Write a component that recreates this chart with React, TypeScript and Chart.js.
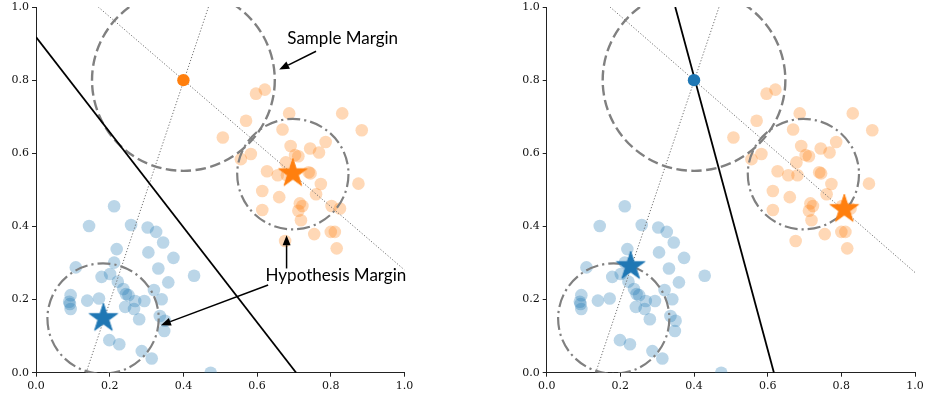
import React, { useEffect, useRef } from "react";
import { Chart, registerables } from "chart.js";
Chart.register(...registerables);

const BLUE = "#1f77b4";
const ORANGE = "#ff7f0e";
const BLUE_LIGHT = "rgba(31,119,180,0.3)";
const ORANGE_LIGHT = "rgba(255,127,14,0.3)";

// Class 0 (blue) samples
const bluePoints: [number, number][] = [
  [0.212, 0.455], [0.144, 0.401], [0.258, 0.404], [0.303, 0.397], [0.326, 0.385],
  [0.345, 0.356], [0.305, 0.329], [0.373, 0.314], [0.219, 0.338], [0.332, 0.285],
  [0.429, 0.265], [0.108, 0.288], [0.212, 0.301], [0.178, 0.262], [0.201, 0.270],
  [0.222, 0.249], [0.359, 0.247], [0.237, 0.229], [0.320, 0.226], [0.244, 0.215],
  [0.251, 0.212], [0.094, 0.212], [0.090, 0.194], [0.092, 0.188], [0.094, 0.174],
  [0.139, 0.197], [0.171, 0.203], [0.294, 0.196], [0.341, 0.201], [0.269, 0.196],
  [0.242, 0.180], [0.266, 0.174], [0.280, 0.146], [0.336, 0.155], [0.350, 0.142],
  [0.348, 0.114], [0.199, 0.089], [0.226, 0.078], [0.287, 0.059], [0.314, 0.039],
  [0.474, 0.0],
];

// Class 1 (orange) samples
const orangePoints: [number, number][] = [
  [0.597, 0.763], [0.621, 0.774], [0.687, 0.709], [0.831, 0.709], [0.570, 0.689],
  [0.884, 0.663], [0.669, 0.665], [0.507, 0.643], [0.691, 0.620], [0.744, 0.613],
  [0.786, 0.631], [0.768, 0.602], [0.583, 0.598], [0.556, 0.584], [0.703, 0.595],
  [0.712, 0.592], [0.678, 0.575], [0.627, 0.551], [0.656, 0.540], [0.681, 0.540],
  [0.740, 0.548], [0.745, 0.545], [0.773, 0.516], [0.875, 0.517], [0.614, 0.497],
  [0.660, 0.480], [0.760, 0.488], [0.716, 0.463], [0.723, 0.456], [0.712, 0.443],
  [0.614, 0.445], [0.802, 0.456], [0.825, 0.449], [0.719, 0.417], [0.755, 0.379],
  [0.800, 0.385], [0.811, 0.385], [0.816, 0.340], [0.676, 0.360],
];

const axisTicks = [0, 0.2, 0.4, 0.6, 0.8, 1.0];

const samplePoint: [number, number] = [0.4, 0.8];
const sampleMarginRadius = 0.248;
const hypothesisCenters: [number, number][] = [[0.182, 0.148], [0.697, 0.543]];
const hypothesisRadius = 0.151;

const leftStarBlue: [number, number] = [0.183, 0.149];
const leftStarOrange: [number, number] = [0.697, 0.545];
const rightStarBlue: [number, number] = [0.228, 0.291];
const rightStarOrange: [number, number] = [0.808, 0.447];

const leftBoundary: [number, number][] = [[0, 0.918], [0.706, 0]];
const rightBoundary: [number, number][] = [[0.349, 1.0], [0.617, 0]];
const leftGuides: [number, number][][] = [[[0.169, 1.0], [1.0, 0.281]], [[0.136, 0], [0.468, 1.0]]];
const rightGuides: [number, number][][] = [[[0.172, 1.0], [1.0, 0.274]], [[0.133, 0], [0.468, 1.0]]];

const annotationTexts = ["Sample Margin", "Hypothesis Margin"];
const annotationTextPos: [number, number][] = [[0.682, 0.898], [0.623, 0.251]];
const arrowTails: [number, number][] = [[0.760, 0.879], [0.680, 0.285], [0.630, 0.240]];
const arrowHeads: [number, number][] = [[0.660, 0.829], [0.680, 0.376], [0.339, 0.130]];

function makeStar(color: string, R: number) {
  const c = document.createElement("canvas");
  const s = Math.ceil(2 * R + 4);
  c.width = s;
  c.height = s;
  const g = c.getContext("2d")!;
  g.translate(s / 2, s / 2);
  g.beginPath();
  for (let i = 0; i < 10; i++) {
    const r = i % 2 ? R * 0.382 : R;
    const a = -Math.PI / 2 + (i * Math.PI) / 5;
    g.lineTo(r * Math.cos(a), r * Math.sin(a));
  }
  g.closePath();
  g.fillStyle = color;
  g.fill();
  g.strokeStyle = color;
  g.lineWidth = 1;
  g.stroke();
  return c;
}

const toXY = (arr: [number, number][]) => arr.map(([x, y]) => ({ x, y }));

type Panel = {
  sampleColor: string;
  starBlue: [number, number];
  starOrange: [number, number];
  boundary: [number, number][];
  guides: [number, number][][];
  annotate: boolean;
  padLeft: number;
  padRight: number;
};

function buildChart(canvas: HTMLCanvasElement, p: Panel) {
  const geom = {
    id: "geom",
    afterDatasetDraw(chart: any, args: any) {
      if (args.index !== 3) return;
      const { ctx, chartArea: a } = chart;
      const xs = chart.scales.x, ys = chart.scales.y;
      const px = (v: number) => xs.getPixelForValue(v);
      const py = (v: number) => ys.getPixelForValue(v);
      ctx.save();
      ctx.beginPath();
      ctx.rect(a.left, a.top, a.right - a.left, a.bottom - a.top);
      ctx.clip();
      // dotted guide lines
      ctx.strokeStyle = "#707070";
      ctx.lineWidth = 1;
      ctx.setLineDash([1.2, 1.9]);
      for (const g of p.guides) {
        ctx.beginPath();
        ctx.moveTo(px(g[0][0]), py(g[0][1]));
        ctx.lineTo(px(g[1][0]), py(g[1][1]));
        ctx.stroke();
      }
      // sample margin (dashed)
      ctx.strokeStyle = "#808080";
      ctx.lineWidth = 2.4;
      ctx.setLineDash([10.5, 4.5]);
      ctx.beginPath();
      ctx.ellipse(px(samplePoint[0]), py(samplePoint[1]),
        Math.abs(px(samplePoint[0] + sampleMarginRadius) - px(samplePoint[0])),
        Math.abs(py(samplePoint[1] + sampleMarginRadius) - py(samplePoint[1])), 0, 0, Math.PI * 2);
      ctx.stroke();
      // hypothesis margins (dash-dot)
      ctx.lineWidth = 2.2;
      ctx.setLineDash([13, 4, 2.2, 4]);
      for (const c of hypothesisCenters) {
        ctx.beginPath();
        ctx.ellipse(px(c[0]), py(c[1]),
          Math.abs(px(c[0] + hypothesisRadius) - px(c[0])),
          Math.abs(py(c[1] + hypothesisRadius) - py(c[1])), 0, 0, Math.PI * 2);
        ctx.stroke();
      }
      // decision boundary
      ctx.setLineDash([]);
      ctx.strokeStyle = "#000";
      ctx.lineWidth = 1.8;
      ctx.beginPath();
      ctx.moveTo(px(p.boundary[0][0]), py(p.boundary[0][1]));
      ctx.lineTo(px(p.boundary[1][0]), py(p.boundary[1][1]));
      ctx.stroke();
      ctx.restore();
    },
    afterDraw(chart: any) {
      if (!p.annotate) return;
      const { ctx } = chart;
      const xs = chart.scales.x, ys = chart.scales.y;
      const px = (v: number) => xs.getPixelForValue(v);
      const py = (v: number) => ys.getPixelForValue(v);
      ctx.save();
      ctx.fillStyle = "#000";
      ctx.font = "17px Lato";
      ctx.textAlign = "left";
      ctx.textBaseline = "alphabetic";
      annotationTexts.forEach((t, i) => {
        ctx.fillText(t, px(annotationTextPos[i][0]), py(annotationTextPos[i][1]));
      });
      ctx.strokeStyle = "#000";
      ctx.lineWidth = 1.5;
      arrowTails.forEach((tail, i) => {
        const x0 = px(tail[0]), y0 = py(tail[1]);
        const x1 = px(arrowHeads[i][0]), y1 = py(arrowHeads[i][1]);
        const ang = Math.atan2(y1 - y0, x1 - x0);
        const L = 10, W = 4;
        const bx = x1 - L * Math.cos(ang), by = y1 - L * Math.sin(ang);
        ctx.beginPath();
        ctx.moveTo(x0, y0);
        ctx.lineTo(bx, by);
        ctx.stroke();
        ctx.beginPath();
        ctx.moveTo(x1, y1);
        ctx.lineTo(bx + W * Math.sin(ang), by - W * Math.cos(ang));
        ctx.lineTo(bx - W * Math.sin(ang), by + W * Math.cos(ang));
        ctx.closePath();
        ctx.fill();
      });
      ctx.restore();
    },
  };

  const tickFont = { family: "DejaVu Serif", size: 11 };
  const scaleCommon = (isX: boolean) => ({
    type: "linear" as const,
    min: 0,
    max: 1,
    afterBuildTicks: (s: any) => {
      s.ticks = axisTicks.map((v) => ({ value: v }));
    },
    afterFit: (s: any) => {
      if (isX) s.height = 27.3;
      else s.width = 36;
      s.paddingTop = 0;
      s.paddingBottom = 0;
      s.paddingLeft = 0;
      s.paddingRight = 0;
    },
    ticks: {
      font: tickFont,
      color: "#111",
      padding: 3,
      callback: (v: any) => Number(v).toFixed(1),
    },
    grid: {
      display: true,
      drawOnChartArea: false,
      drawTicks: true,
      tickLength: 4,
      color: "#222",
      lineWidth: 1,
    },
    border: { display: true, color: "#222", width: 1 },
  });

  return new Chart(canvas, {
    type: "scatter",
    data: {
      datasets: [
        { data: toXY([samplePoint]), pointRadius: 6.2, backgroundColor: p.sampleColor, borderWidth: 0, clip: 0 } as any,
        { data: toXY([p.starBlue]), pointStyle: makeStar(BLUE, 15), pointRadius: 15, clip: 0 } as any,
        { data: toXY([p.starOrange]), pointStyle: makeStar(ORANGE, 15), pointRadius: 15, clip: 0 } as any,
        { data: toXY(orangePoints), pointRadius: 6.3, backgroundColor: ORANGE_LIGHT, borderWidth: 0, clip: 0 } as any,
        { data: toXY(bluePoints), pointRadius: 6.3, backgroundColor: BLUE_LIGHT, borderWidth: 0, clip: 0 } as any,
      ],
    },
    options: {
      responsive: false,
      animation: false,
      events: [],
      layout: { autoPadding: false, padding: { left: p.padLeft, right: p.padRight, top: 7, bottom: 0 } },
      plugins: { legend: { display: false }, tooltip: { enabled: false } },
      scales: { x: scaleCommon(true), y: scaleCommon(false) } as any,
    },
    plugins: [geom],
  });
}

export default function App() {
  const leftRef = useRef<HTMLCanvasElement>(null);
  const rightRef = useRef<HTMLCanvasElement>(null);
  useEffect(() => {
    const c1 = buildChart(leftRef.current!, {
      sampleColor: ORANGE,
      starBlue: leftStarBlue,
      starOrange: leftStarOrange,
      boundary: leftBoundary,
      guides: leftGuides,
      annotate: true,
      padLeft: 0,
      padRight: 58.5,
    });
    const c2 = buildChart(rightRef.current!, {
      sampleColor: BLUE,
      starBlue: rightStarBlue,
      starOrange: rightStarOrange,
      boundary: rightBoundary,
      guides: rightGuides,
      annotate: false,
      padLeft: 47.7,
      padRight: 11,
    });
    return () => {
      c1.destroy();
      c2.destroy();
    };
  }, []);
  return (
    <div style={{ position: "absolute", left: 0, top: 0, width: 926, height: 400, background: "#fff" }}>
      <canvas ref={leftRef} width={463} height={400} style={{ position: "absolute", left: 0, top: 0 }} />
      <canvas ref={rightRef} width={463} height={400} style={{ position: "absolute", left: 463, top: 0 }} />
    </div>
  );
}
